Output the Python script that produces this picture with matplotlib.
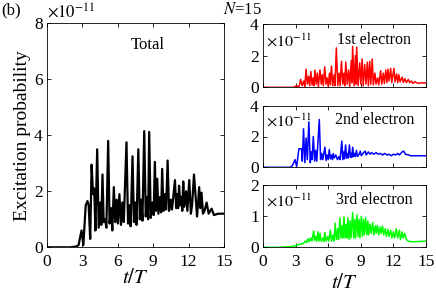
import matplotlib
matplotlib.use("Agg")
import matplotlib.pyplot as plt

plt.rcParams['font.family'] = ['Liberation Serif', 'DejaVu Serif']
plt.rcParams['mathtext.fontset'] = 'stix'

# values in units of 1e-11
t_total = [0.0, 2.0, 2.5, 2.7, 2.8, 2.95, 3.1, 3.3, 3.45, 3.55, 3.68, 3.8, 3.92, 4.02, 4.12, 4.27, 4.4, 4.55, 4.62, 4.72,
           4.82, 4.95, 5.05, 5.2, 5.32, 5.45, 5.55, 5.68, 5.8, 5.92, 6.02, 6.15, 6.28, 6.4, 6.52, 6.75, 6.88, 7.0, 7.1, 7.26,
           7.38, 7.5, 7.6, 7.75, 7.88, 8.0, 8.1, 8.25, 8.38, 8.5, 8.58, 8.67, 8.8, 8.95, 9.05, 9.15, 9.25, 9.35, 9.45, 9.6,
           9.68, 9.77, 9.88, 10.0, 10.1, 10.23, 10.35, 10.5, 10.6, 10.85, 10.95, 11.05, 11.12, 11.2, 11.3, 11.4, 11.47, 11.55, 11.65, 11.8,
           11.9, 12.06, 12.2, 12.3, 12.46, 12.6, 12.72, 12.9, 13.0, 13.1, 13.22, 13.35, 13.53, 13.7, 13.95, 14.15, 14.5, 15.0]
v_total = [0.0, 0.0, 0.03, 0.08, 0.3, 0.6, 0.08, 1.5, 1.65, 1.5, 0.3, 2.95, 1.9, 2.1, 0.6, 3.5, 0.7, 1.6, 0.8, 2.6,
           0.9, 1.0, 0.7, 3.8, 0.85, 1.4, 0.6, 2.15, 0.9, 1.7, 0.85, 1.9, 0.8, 1.6, 0.9, 3.75, 0.85, 1.5, 0.75, 3.25,
           0.9, 1.6, 0.8, 3.5, 1.0, 1.7, 0.95, 4.15, 1.1, 1.8, 1.0, 4.12, 1.05, 1.6, 1.15, 3.05, 1.3, 2.45, 1.2, 1.8,
           1.25, 2.8, 1.3, 1.9, 1.35, 3.1, 1.3, 1.7, 1.35, 2.4, 1.4, 1.9, 1.4, 2.2, 1.5, 1.8, 1.3, 2.35, 1.45, 2.0,
           1.3, 2.4, 1.2, 1.5, 2.6, 1.8, 1.1, 2.15, 1.4, 1.95, 1.2, 1.3, 1.6, 1.2, 1.38, 1.15, 1.2, 1.2]

t_e1 = [0, 2.8, 3.1, 3.3, 3.47, 3.6, 3.75, 3.85, 3.96, 4.08, 4.2, 4.3, 4.4, 4.52, 4.62, 4.7, 4.78, 4.9, 5.0, 5.1,
        5.24, 5.36, 5.45, 5.55, 5.68, 5.8, 5.9, 6.0, 6.12, 6.2, 6.3, 6.42, 6.55, 6.62, 6.75, 6.88, 7.0, 7.1, 7.22, 7.34,
        7.45, 7.52, 7.62, 7.75, 7.88, 7.98, 8.12, 8.18, 8.25, 8.38, 8.5, 8.55, 8.62, 8.75, 8.9, 9.0, 9.12, 9.22, 9.36, 9.48,
        9.6, 9.7, 9.82, 9.92, 10.05, 10.15, 10.3, 10.4, 10.55, 10.65, 10.83, 10.93, 11.07, 11.17, 11.3, 11.4, 11.5, 11.6, 11.75, 11.85,
        12.05, 12.15, 12.3, 12.4, 12.5, 12.62, 12.8, 12.92, 13.05, 13.2, 13.37, 13.5, 13.65, 13.8, 14.0, 14.25, 14.5, 15]
v_e1 = [0, 0.0, 0.1, 0.0, 0.5, 0.1, 0.4, 0.05, 1.15, 0.2, 0.7, 0.1, 1.0, 0.15, 0.6, 0.1, 1.1, 0.2, 0.9, 0.05,
        1.1, 0.2, 0.8, 0.1, 1.3, 0.2, 0.6, 0.05, 0.9, 0.15, 1.35, 0.1, 0.8, 0.1, 2.5, 0.1, 0.9, 0.1, 1.65, 0.2,
        0.9, 0.1, 1.6, 0.2, 1.1, 0.05, 1.7, 0.3, 2.6, 0.1, 2.0, 0.2, 2.55, 0.1, 1.55, 0.2, 1.8, 0.1, 1.45, 0.2,
        1.6, 0.1, 1.65, 0.2, 1.8, 0.15, 0.9, 0.2, 0.6, 0.15, 1.05, 0.2, 0.9, 0.25, 1.1, 0.3, 1.15, 0.4, 1.2, 0.3,
        1.2, 0.35, 0.85, 0.3, 0.8, 0.35, 0.65, 0.3, 0.55, 0.3, 0.5, 0.3, 0.4, 0.25, 0.35, 0.25, 0.28, 0.28]

t_e2 = [0, 2.5, 2.7, 2.94, 3.1, 3.3, 3.55, 3.62, 3.73, 3.85, 3.97, 4.08, 4.22, 4.35, 4.45, 4.52, 4.63, 4.75, 4.85, 4.95,
        5.18, 5.3, 5.4, 5.5, 5.7, 5.8, 5.9, 6.0, 6.1, 6.2, 6.3, 6.38, 6.47, 6.55, 6.7, 6.85, 7.0, 7.1, 7.25, 7.35,
        7.45, 7.5, 7.6, 7.7, 7.8, 7.85, 7.95, 8.05, 8.12, 8.18, 8.25, 8.35, 8.45, 8.5, 8.6, 8.7, 8.85, 8.95, 9.05, 9.25,
        9.4, 9.5, 9.7, 9.85, 10.0, 10.2, 10.4, 10.6, 10.8, 11.0, 11.2, 11.4, 11.6, 11.8, 12.0, 12.2, 12.4, 12.55, 12.8, 12.95,
        13.1, 13.4, 13.6, 14.0, 15]
v_e2 = [0, 0.0, 0.1, 0.5, 0.05, 1.2, 1.2, 0.4, 2.5, 0.3, 1.9, 0.5, 2.95, 0.3, 1.0, 0.5, 2.0, 0.4, 1.1, 0.4,
        3.1, 0.5, 0.9, 0.5, 1.3, 0.45, 0.8, 0.5, 1.15, 0.55, 0.8, 0.5, 0.9, 0.6, 0.8, 0.5, 0.7, 0.5, 1.7, 0.5,
        1.0, 0.55, 1.45, 0.6, 0.9, 0.6, 1.45, 0.65, 0.9, 0.65, 1.3, 0.7, 0.9, 0.7, 1.1, 0.7, 0.85, 1.05, 0.75, 0.95,
        1.05, 0.8, 1.0, 0.85, 0.95, 0.85, 0.95, 0.85, 0.9, 0.8, 0.9, 0.8, 0.85, 0.75, 0.85, 0.8, 0.9, 0.8, 1.0, 1.05,
        0.85, 0.8, 0.75, 0.75, 0.75]

t_e3 = [0, 1.5, 2.5, 3.0, 3.4, 3.7, 3.9, 4.0, 4.14, 4.25, 4.4, 4.5, 4.66, 4.75, 4.85, 4.95, 5.05, 5.15, 5.25, 5.35,
        5.5, 5.6, 5.7, 5.8, 5.95, 6.05, 6.2, 6.3, 6.45, 6.55, 6.65, 6.75, 6.88, 6.95, 7.08, 7.18, 7.28, 7.35, 7.45, 7.55,
        7.65, 7.72, 7.82, 7.92, 8.02, 8.1, 8.25, 8.35, 8.45, 8.52, 8.65, 8.75, 8.85, 8.92, 9.05, 9.15, 9.25, 9.32, 9.45, 9.55,
        9.65, 9.72, 9.85, 9.95, 10.1, 10.2, 10.35, 10.42, 10.55, 10.65, 10.8, 10.88, 11.0, 11.1, 11.25, 11.35, 11.5, 11.6, 11.75, 11.85,
        12.0, 12.1, 12.27, 12.4, 12.55, 12.65, 12.8, 12.9, 13.05, 13.2, 13.37, 13.6, 14.0, 15]
v_e3 = [0, 0.0, 0.02, 0.05, 0.1, 0.12, 0.2, 0.15, 0.28, 0.18, 0.3, 0.2, 0.53, 0.22, 0.35, 0.2, 0.5, 0.2, 0.45, 0.2,
        0.3, 0.18, 0.48, 0.2, 0.35, 0.2, 0.55, 0.2, 0.4, 0.2, 0.78, 0.25, 0.6, 0.25, 0.95, 0.3, 0.7, 0.3, 0.98, 0.3,
        0.75, 0.3, 0.95, 0.25, 0.85, 0.3, 1.12, 0.3, 0.9, 0.3, 1.05, 0.35, 0.9, 0.3, 1.0, 0.35, 0.9, 0.4, 0.95, 0.4,
        0.85, 0.4, 0.75, 0.45, 0.8, 0.4, 0.7, 0.45, 0.7, 0.4, 0.65, 0.45, 0.68, 0.4, 0.6, 0.35, 0.58, 0.35, 0.55, 0.3,
        0.5, 0.3, 0.6, 0.3, 0.55, 0.25, 0.5, 0.3, 0.45, 0.25, 0.2, 0.18, 0.18, 0.2]

xticks = [0, 3, 6, 9, 12, 15]
labels_right = ['1st electron', '2nd electron', '3rd electron']
colors_right = ['#ff0000', '#0000ff', '#00ff00']
ymax_right = [4, 4, 2]
yticks_right = [[0, 2, 4], [0, 2, 4], [0, 1, 2]]

W, H = 436, 295
fig = plt.figure(figsize=(W / 100, H / 100), dpi=100)

def ax_px(x0, y0, x1, y1):
    return fig.add_axes([x0 / W, 1 - y1 / H, (x1 - x0) / W, (y1 - y0) / H])

def style(ax):
    ax.tick_params(direction='in', top=True, right=True, length=3, width=0.6, labelsize=12.5, pad=3)
    for s in ax.spines.values():
        s.set_linewidth(0.6)
    ax.set_xlim(0, 15)
    ax.set_xticks(xticks)

axL = ax_px(46.7, 23.3, 224, 247.3)
axL.plot(t_total, v_total, color='black', lw=1.6)
style(axL)
axL.set_ylim(0, 8)
axL.set_yticks([0, 2, 4, 6, 8])
axL.tick_params(axis='x', pad=5)
axL.set_ylabel('Excitation probability', fontsize=14, labelpad=2)
axL.set_xlabel(r'$t/T$', fontsize=15, labelpad=-1)
axL.text(0.57, 0.905, 'Total', transform=axL.transAxes, ha='center', va='center', fontsize=12)
axL.text(0.0, 1.045, r'$\times10^{-11}$', transform=axL.transAxes, ha='left', va='center', fontsize=12)

boxes = [(24.3, 87.3), (105.7, 167.3), (185.3, 247.3)]
series = [(t_e1, v_e1), (t_e2, v_e2), (t_e3, v_e3)]
label_y = [0.75, 0.77, 0.763]
for i, ((y0, y1), (tt, vv)) in enumerate(zip(boxes, series)):
    ax = ax_px(263, y0, 426, y1)
    ax.plot(tt, vv, color=colors_right[i], lw=1.1)
    style(ax)
    ax.set_ylim(0, ymax_right[i])
    ax.set_yticks(yticks_right[i])
    ax.text(0.684, label_y[i], labels_right[i], transform=ax.transAxes, ha='center', va='center', fontsize=11.5)
    ax.text(0.02, label_y[i] - 0.03, r'$\times10^{-11}$', transform=ax.transAxes, ha='left', va='center', fontsize=11.5)
    if i < 2:
        ax.tick_params(labelbottom=False)
    else:
        ax.tick_params(axis='x', pad=5)
        ax.set_xlabel(r'$t/T$', fontsize=15, labelpad=3)

fig.text(1 / W, 1 - 10 / H, '(b)', ha='left', va='center', fontsize=12)
fig.text(242 / W, 1 - 10 / H, r'$N$=15', ha='center', va='center', fontsize=12)

fig.savefig('out.png', dpi=100)
